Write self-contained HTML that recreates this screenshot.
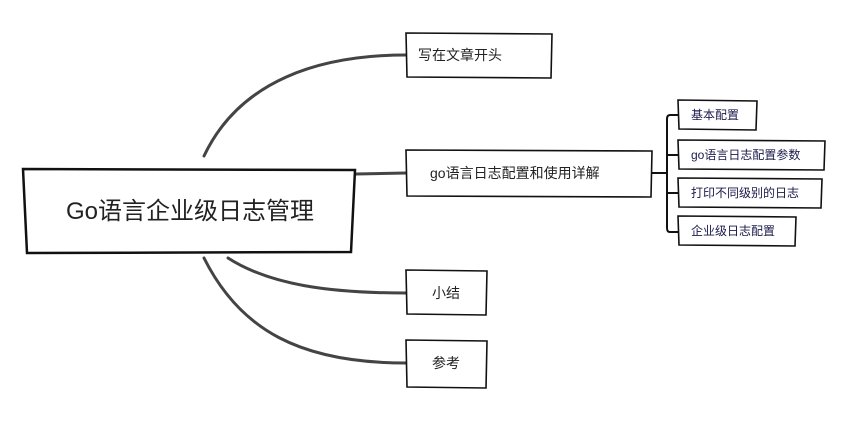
<!DOCTYPE html>
<html><head><meta charset="utf-8"><style>
body{margin:0;background:#fff;}
svg text{font-family:"Liberation Sans","Noto Sans CJK SC",sans-serif;}
</style></head><body>
<svg width="853" height="416" viewBox="0 0 853 416" xmlns="http://www.w3.org/2000/svg">
<g fill="none" stroke="#444" stroke-width="3" stroke-linecap="round">
<path d="M204,156 C240,80 320,55 406,55"/>
<path d="M356,174 L406,173"/>
<path d="M228,258 C270,285 330,293 406,293"/>
<path d="M204,258 C240,330 300,363 406,363"/>
</g>
<g fill="none" stroke="#111" stroke-width="2">
<path d="M652,173 L667,173"/>
<path d="M678,115 L670,115 Q667,115 667,119 L667,228 Q667,232 670,232 L678,232"/>
<path d="M667,155 L678,155 M667,193 L678,193"/>
</g>
<g fill="#fff" stroke="#111" stroke-width="2.5">
<path d="M23,169 L355,170 L351,252 L27,253 Z"/>
</g>
<g fill="#fff" stroke="#111" stroke-width="1.6">
<path d="M406,33 L552,34 L551,78 L407,77 Z"/>
<path d="M406,150 L652,151 L651,197 L407,196 Z"/>
<path d="M406,270 L487,271 L486,315 L407,314 Z"/>
<path d="M406,340 L487,341 L486,388 L407,387 Z"/>
<path d="M678,100 L757,101 L756,130 L679,129 Z"/>
<path d="M678,140 L825,141 L824,170 L679,169 Z"/>
<path d="M678,178 L822,179 L821,208 L679,207 Z"/>
<path d="M678,216 L796,217 L795,246 L679,245 Z"/>
</g>
<text x="190" y="219" font-size="24" text-anchor="middle" fill="#222">Go语言企业级日志管理</text>
<g font-size="14" fill="#222">
<text x="418" y="60">写在文章开头</text>
<text x="430" y="178">go语言日志配置和使用详解</text>
<text x="432" y="298">小结</text>
<text x="432" y="368">参考</text>
</g>
<g font-size="12" fill="#1a1a4a">
<text x="691" y="119">基本配置</text>
<text x="691" y="159">go语言日志配置参数</text>
<text x="691" y="197">打印不同级别的日志</text>
<text x="691" y="235">企业级日志配置</text>
</g>
</svg>
</body></html>
